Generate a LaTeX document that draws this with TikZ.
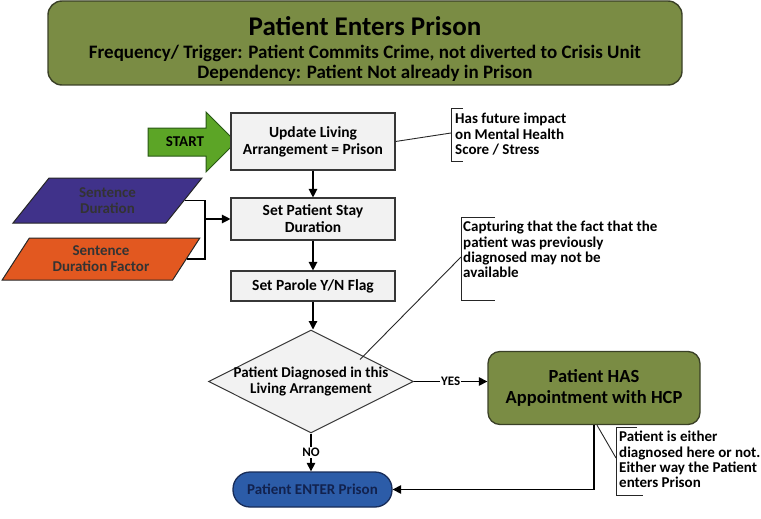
\documentclass[tikz,border=0pt]{standalone}
\usepackage{fontspec}
\setmainfont{Carlito}
\usepackage{xcolor}
\usepackage{tikz}
\usetikzlibrary{shapes,arrows,positioning,calc,arrows.meta}

\definecolor{hdrgreen}{RGB}{122,140,68}
\definecolor{hdrline}{RGB}{58,64,38}
\definecolor{boxgray}{RGB}{242,242,242}
\definecolor{boxline}{RGB}{55,55,55}
\definecolor{startgreen}{RGB}{92,165,38}
\definecolor{startline}{RGB}{40,88,20}
\definecolor{sdurpurple}{RGB}{64,50,138}
\definecolor{sfacorange}{RGB}{226,88,32}
\definecolor{entblue}{RGB}{44,92,168}
\definecolor{entline}{RGB}{24,44,88}
\definecolor{enttext}{RGB}{18,34,78}

\begin{document}
\begin{tikzpicture}[x=1pt, y=-1pt,
    >={Triangle[length=8.5pt,width=8.5pt]},
    stepbox/.style={draw=boxline, fill=boxgray, line width=1.1pt, minimum width=164pt,
        align=center, inner sep=2pt, font=\bfseries\fontsize{15.5}{17}\selectfont},
    decision/.style={diamond, draw=boxline, fill=boxgray, line width=1pt, inner sep=0pt,
        minimum width=205pt, minimum height=103pt},
    inbox/.style={trapezium, trapezium left angle=59, trapezium right angle=121,
        trapezium stretches=true, draw=black!85, line width=1pt, align=center,
        text=black!80, font=\bfseries\fontsize{15}{16}\selectfont},
    note/.style={anchor=north west, align=left, inner sep=0pt,
        font=\bfseries\fontsize{15}{15.4}\selectfont},
    tag/.style={fill=white, inner sep=1pt, font=\bfseries\fontsize{13}{14}\selectfont},
    link/.style={line width=1.2pt},
    callout/.style={line width=0.9pt, black!85}]

    \useasboundingbox (0,0) rectangle (761,519);

    % Header
    \node [draw=hdrline, fill=hdrgreen, line width=1.4pt, rounded corners=14pt,
        minimum width=634pt, minimum height=84pt] (header) at (365,43) {};
    \node [align=center, font=\bfseries\fontsize{19}{20}\selectfont] (headertext) at (365,49)
        {{\fontsize{27}{28}\selectfont Patient Enters Prison}\\[2.3pt]
         Frequency/ Trigger: Patient Commits Crime, not diverted to Crisis Unit\\
         Dependency: Patient Not already in Prison};

    % Start
    \node [single arrow, draw=startline, fill=startgreen, line width=1pt,
        minimum height=88pt, single arrow head extend=16pt, text height=9pt,
        text depth=0pt, inner ysep=9pt, inner xsep=3pt,
        font=\bfseries\fontsize{15}{16}\selectfont] (start) at (185,142) {START};

    % Steps
    \node [stepbox, minimum height=57pt] (update) at (313,141.5) {Update Living\\Arrangement = Prison};
    \node [stepbox, minimum height=42pt] (stay) at (313,219) {Set Patient Stay\\Duration};
    \node [stepbox, minimum height=30pt] (parole) at (313,286) {Set Parole Y/N Flag};
    \node [decision] (diag) at (311,381.5) {};
    \node [align=center, font=\bfseries\fontsize{15}{16}\selectfont] (diagtext) at (diag.center)
        {Patient Diagnosed in this\\Living Arrangement};

    % Inputs
    \node [inbox, fill=sdurpurple, minimum width=189pt, minimum height=45pt] (sdur) at (107.5,200.5) {Sentence\\Duration};
    \node [inbox, fill=sfacorange, minimum width=198pt, minimum height=42pt] (sfac) at (101,259) {Sentence\\Duration Factor};
    \coordinate (merge) at (205,219);
    \draw [link] (sdur.east) -- (sdur.east -| merge) -- (sfac.east -| merge) -- (sfac.east);
    \draw [link, ->] (merge) -- (stay.west);

    % Outcomes
    \node [draw=hdrline, fill=hdrgreen, line width=1.3pt, rounded corners=12pt,
        minimum width=212pt, minimum height=73pt, align=center,
        font=\bfseries\fontsize{18.5}{21}\selectfont] (hcp) at (594,388)
        {Patient HAS\\Appointment with HCP};
    \node [draw=entline, fill=entblue, line width=1.3pt, rounded corners=17pt,
        minimum width=159pt, minimum height=35pt, text=enttext,
        font=\bfseries\fontsize{15}{16}\selectfont] (enter) at (312.5,489.5)
        {Patient ENTER Prison};

    % Flow
    \draw [link, ->] (update) -- (stay);
    \draw [link, ->] (stay) -- (parole);
    \draw [link, ->] (parole.south) -- (diag.north -| parole.south);
    \draw [link, ->] (diag.east) -- (diag.east -| hcp.west) node [tag, midway] {YES};
    \draw [link, ->] (diag.south) -- (diag.south |- enter.north) node [tag, midway] {NO};
    \draw [link, ->] (hcp.south) |- (enter.east);

    % Notes
    \node [note] (impact) at (455,113) {Has future impact\\on Mental Health\\Score / Stress};
    \draw [callout] (463,108) -- (451,108) -- (451,161) -- (463,161);
    \coordinate (impactpin) at (451,133);
    \draw [callout] (update.east) -- (impactpin);

    \node [note] (capture) at (463,221) {Capturing that the fact that the\\patient was previously\\diagnosed may not be\\available};
    \draw [callout] (495,217) -- (461,217) -- (461,300) -- (495,300);
    \coordinate (capturepin) at (461,257);
    \draw [callout] ([xshift=49pt,yshift=22pt]diag.center) -- (capturepin);

    \node [note] (either) at (619,431) {Patient is either\\diagnosed here or not.\\Either way the Patient\\enters Prison};
    \draw [callout] (637,427) -- (616,427) -- (616,495) -- (643,495);
    \coordinate (eitherpin) at (616,458);
    \draw [callout] ([xshift=3pt]hcp.south) -- (eitherpin);
\end{tikzpicture}
\end{document}
